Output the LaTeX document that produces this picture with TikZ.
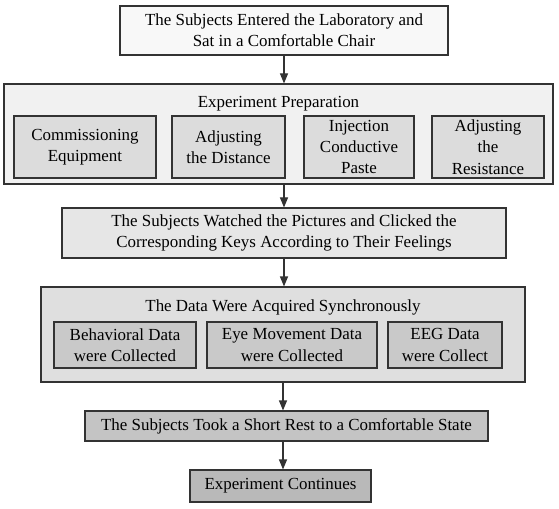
\documentclass[tikz,border=0pt]{standalone}
\usepackage{fontspec}
\setmainfont{Liberation Serif}
\usetikzlibrary{positioning,arrows.meta}
\definecolor{edge}{HTML}{333333}
\definecolor{shadeA}{HTML}{F8F8F8}
\definecolor{shadeB}{HTML}{F1F1F1}
\definecolor{shadeC}{HTML}{DCDCDC}
\definecolor{shadeD}{HTML}{E6E6E6}
\definecolor{shadeE}{HTML}{DFDFDF}
\definecolor{shadeF}{HTML}{C9C9C9}
\definecolor{shadeG}{HTML}{C4C4C4}
\definecolor{shadeH}{HTML}{B9B9B9}
\tikzset{
  box/.style={draw=edge,line width=1.1bp,align=center,inner sep=0pt,
    font=\rmfamily\fontsize{17}{21.5}\selectfont},
  title/.style={inner sep=0pt,font=\rmfamily\fontsize{17}{21.5}\selectfont},
  flow/.style={draw=edge,line width=1.1bp,-{Triangle[length=10bp,width=8bp]}}
}

\begin{document}
\begin{tikzpicture}[x=1bp,y=-1bp]
  \useasboundingbox (0,0) rectangle (559,509);
  % start
  \node[box,fill=shadeA,minimum width=328bp,minimum height=49bp] (enter) at (284,30.5)
    {The Subjects Entered the Laboratory and\\Sat in a Comfortable Chair};
  % preparation group
  \node[box,fill=shadeB,minimum width=549bp,minimum height=100bp] (prep) at (278.5,134) {};
  \node[title] (preptitle) at (278.5,103.5) {Experiment Preparation};
  \foreach \cx/\w/\txt/\name in {
    85/142/{Commissioning\\Equipment}/commission,
    228.5/113/{Adjusting\\the Distance}/distance,
    359/110/{Injection\\Conductive\\Paste}/paste,
    488/112/{Adjusting\\the\\Resistance}/resistance}
  {
    \node[box,fill=shadeC,minimum width=\w bp,minimum height=62bp] (\name) at (\cx,147) {\txt};
  }
  % task
  \node[box,fill=shadeD,minimum width=444bp,minimum height=50bp] (watch) at (284,233)
    {The Subjects Watched the Pictures and Clicked the\\Corresponding Keys According to Their Feelings};
  % acquisition group
  \node[box,fill=shadeE,minimum width=484bp,minimum height=95bp] (data) at (283,334.5) {};
  \node[title] (datatitle) at (283,307) {The Data Were Acquired Synchronously};
  \foreach \cx/\w/\txt/\name in {
    125/142/{Behavioral Data\\were Collected}/behav,
    292/170/{Eye Movement Data\\were Collected}/eye,
    445/114/{EEG Data\\were Collect}/eeg}
  {
    \node[box,fill=shadeF,minimum width=\w bp,minimum height=46bp] (\name) at (\cx,345) {\txt};
  }
  % end
  \node[box,fill=shadeG,minimum width=403bp,minimum height=30bp] (rest) at (286.5,426)
    {The Subjects Took a Short Rest to a Comfortable State};
  \node[box,fill=shadeH,minimum width=181bp,minimum height=32bp] (cont) at (280.5,486)
    {Experiment Continues};

  \draw[flow] (enter.south) -- (enter.south |- prep.north);
  \draw[flow] (watch.north |- prep.south) -- (watch.north);
  \draw[flow] (watch.south) -- (watch.south |- data.north);
  \draw[flow] (data.south) -- (data.south |- rest.north);
  \draw[flow] (rest.south -| data.south) -- (cont.north -| data.south);
\end{tikzpicture}
\end{document}
